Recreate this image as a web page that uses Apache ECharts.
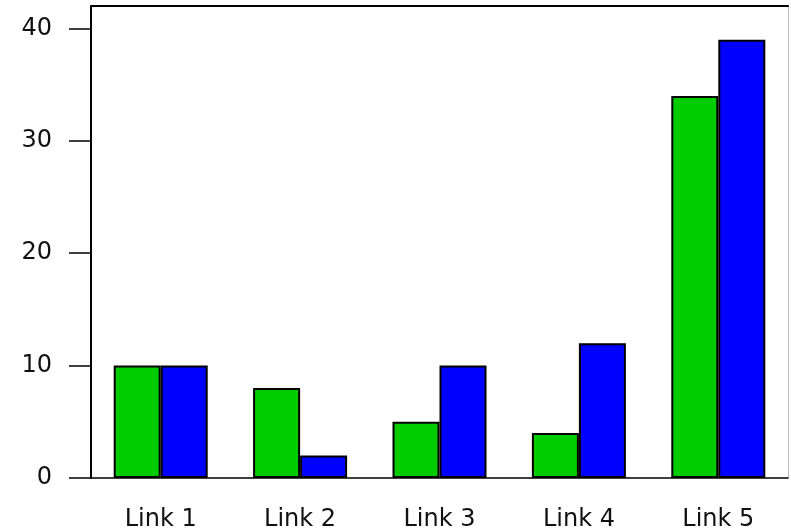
<!DOCTYPE html>
<html>
<head>
<meta charset="utf-8">
<script src="https://cdn.jsdelivr.net/npm/echarts@6/dist/echarts.min.js"></script>
<style>html,body{margin:0;padding:0;background:#fff}#c{width:791px;height:532px}</style>
</head>
<body>
<div id="c"></div>
<script>
var categories = ['Link 1', 'Link 2', 'Link 3', 'Link 4', 'Link 5'];
var greenValues = [10, 8, 5, 4, 34];
var blueValues = [10, 2, 10, 12, 39];
var yTicks = [0, 10, 20, 30, 40];

var chart = echarts.init(document.getElementById('c'), null, {renderer: 'canvas'});
var font = 'DejaVu Sans';
chart.setOption({
  animation: false,
  backgroundColor: '#ffffff',
  grid: {left: 91, top: 6, width: 697, bottom: 54, containLabel: false},
  xAxis: [{
    type: 'category',
    data: categories,
    position: 'bottom',
    axisLine: {show: true, onZero: false, lineStyle: {color: '#000', width: 1.5}},
    axisTick: {show: false},
    axisLabel: {margin: 30, color: '#111', fontFamily: font, fontSize: 24}
  }, {
    type: 'category',
    data: categories,
    position: 'top',
    axisLine: {show: true, onZero: false, lineStyle: {color: '#000', width: 2}},
    axisTick: {show: false},
    axisLabel: {show: false}
  }],
  yAxis: [{
    type: 'value',
    min: 0,
    max: 42,
    interval: 10,
    position: 'left',
    splitLine: {show: false},
    axisLine: {show: true, onZero: false, lineStyle: {color: '#000', width: 2}},
    axisTick: {show: true, length: 22, lineStyle: {color: '#000', width: 1.5}},
    axisLabel: {
      margin: 39, color: '#111', fontFamily: font, fontSize: 24,
      showMaxLabel: false,
      formatter: function (v) { return yTicks.indexOf(v) >= 0 ? String(v) : ''; }
    }
  }, {
    type: 'value',
    min: 0,
    max: 42,
    position: 'right',
    splitLine: {show: false},
    axisLine: {show: true, onZero: false, lineStyle: {color: '#bbb', width: 1}},
    axisTick: {show: false},
    axisLabel: {show: false}
  }],
  series: [{
    type: 'bar',
    data: greenValues,
    barWidth: 47,
    barGap: '0%',
    itemStyle: {color: '#00cc00', borderColor: '#000', borderWidth: 2}
  }, {
    type: 'bar',
    data: blueValues,
    barWidth: 47,
    barGap: '0%',
    itemStyle: {color: '#0000ff', borderColor: '#000', borderWidth: 2}
  }]
});
</script>
</body>
</html>
